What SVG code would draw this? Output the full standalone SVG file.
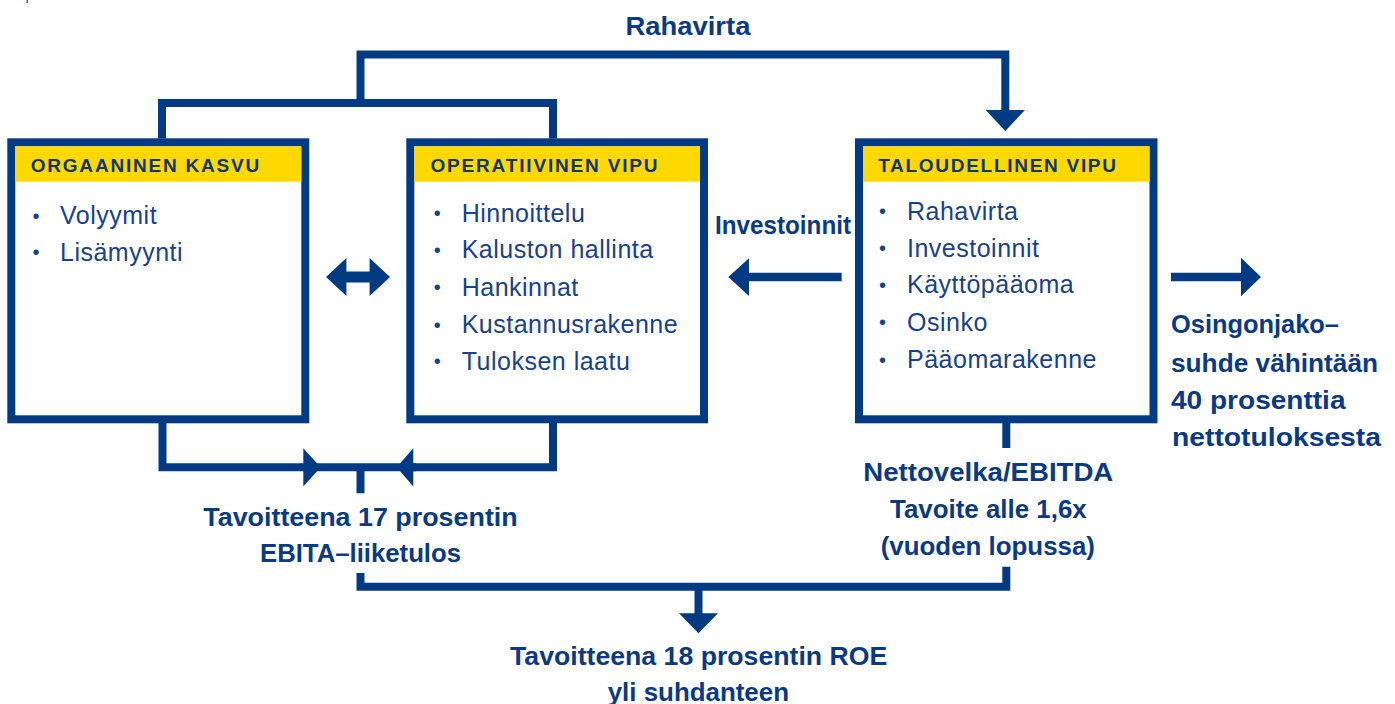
<svg xmlns="http://www.w3.org/2000/svg" width="1395" height="704" viewBox="0 0 1395 704">
<style>
.box{fill:#fff;stroke:#023b83;stroke-width:8}
.hdr{fill:#ffd800}
.ht{font-family:"Liberation Sans",Arial,sans-serif;font-weight:bold;font-size:19px;fill:#0f3577}
.it{font-family:"Liberation Sans",Arial,sans-serif;font-size:25px;letter-spacing:0.5px;fill:#17418b}
.bu{font-family:"Liberation Sans",Arial,sans-serif;font-size:20px;fill:#17418b}
.lb{font-family:"Liberation Sans",Arial,sans-serif;font-weight:bold;font-size:26.5px;fill:#0b3a82}
.ln{fill:none;stroke:#023b83;stroke-width:8;stroke-linejoin:miter;stroke-linecap:butt}
.ah{fill:#023b83}
</style>
<rect x="26.5" y="0" width="1.5" height="3" fill="#3d5f9e"/>
<g id="connectors">
  <path class="ln" d="M360.5,103 V54.5 H1005.3 V112"/>
  <polygon class="ah" points="985.7,110 1025,110 1005.3,131"/>
  <path class="ln" d="M162,138.5 V103 H553 V138.5"/>
  <path class="ln" d="M162.5,423 V467.2 H416"/>
  <path class="ln" d="M553,423 V467.2 H410"/>
  <polygon class="ah" points="303.3,448.3 320.7,467.2 303.3,486.5"/>
  <polygon class="ah" points="413.3,448.3 396.7,467.2 413.3,486.5"/>
  <path class="ln" d="M360.5,467 V493.3"/>
  <path class="ln" d="M1006.3,423 V448"/>
  <path class="ln" d="M360.5,573 V586.7 H1006.3 V566.7"/>
  <path class="ln" d="M698.5,586.7 V614"/>
  <polygon class="ah" points="679,613.3 718,613.3 698.5,633.3"/>
  <polygon class="ah" points="326,277 346.4,258 346.4,271.5 369.6,271.5 369.6,258 390,277 369.6,296 369.6,282.5 346.4,282.5 346.4,296"/>
  <polygon class="ah" points="728.3,277 749,258.3 749,272.7 841.7,272.7 841.7,281.3 749,281.3 749,296"/>
  <polygon class="ah" points="1171,272.7 1241,272.7 1241,257.7 1261,277 1241,296.3 1241,281.3 1171,281.3"/>
</g>
<g id="orgaaninen-kasvu">
  <rect class="box" x="11.3" y="142.3" width="294" height="277"/>
  <rect class="hdr" x="15.3" y="146.3" width="286" height="35.4"/>
  <text class="ht" x="30.7" y="171.5" textLength="228.6" lengthAdjust="spacing">ORGAANINEN KASVU</text>
  <text class="bu" x="32.5" y="222.5">•</text>
  <text class="it" x="60" y="224.3">Volyymit</text>
  <text class="bu" x="32.5" y="259.2">•</text>
  <text class="it" x="60" y="261">Lisämyynti</text>
</g>
<g id="operatiivinen-vipu">
  <rect class="box" x="410.3" y="142.3" width="293.7" height="277"/>
  <rect class="hdr" x="414.3" y="146.3" width="285.7" height="35.4"/>
  <text class="ht" x="430.4" y="171.5" textLength="227.2" lengthAdjust="spacing">OPERATIIVINEN VIPU</text>
  <text class="bu" x="433.8" y="220">•</text>
  <text class="it" x="461.7" y="221.7">Hinnoittelu</text>
  <text class="bu" x="433.8" y="256.6">•</text>
  <text class="it" x="461.7" y="258.3">Kaluston hallinta</text>
  <text class="bu" x="433.8" y="294.3">•</text>
  <text class="it" x="461.7" y="296">Hankinnat</text>
  <text class="bu" x="433.8" y="331.6">•</text>
  <text class="it" x="461.7" y="333.3">Kustannusrakenne</text>
  <text class="bu" x="433.8" y="368.3">•</text>
  <text class="it" x="461.7" y="370">Tuloksen laatu</text>
</g>
<g id="taloudellinen-vipu">
  <rect class="box" x="859" y="142.3" width="294.5" height="277"/>
  <rect class="hdr" x="863" y="146.3" width="286.5" height="35.4"/>
  <text class="ht" x="878.2" y="171.5" textLength="237.8" lengthAdjust="spacing">TALOUDELLINEN VIPU</text>
  <text class="bu" x="879" y="218.3">•</text>
  <text class="it" x="907" y="220">Rahavirta</text>
  <text class="bu" x="879" y="255">•</text>
  <text class="it" x="907" y="256.7">Investoinnit</text>
  <text class="bu" x="879" y="291.6">•</text>
  <text class="it" x="907" y="293.3">Käyttöpääoma</text>
  <text class="bu" x="879" y="329.3">•</text>
  <text class="it" x="907" y="331">Osinko</text>
  <text class="bu" x="879" y="366.6">•</text>
  <text class="it" x="907" y="368.3">Pääomarakenne</text>
</g>
<g id="labels">
  <text class="lb" x="625.4" y="35" textLength="125" lengthAdjust="spacingAndGlyphs">Rahavirta</text>
  <text class="lb" x="715" y="234" textLength="136" lengthAdjust="spacingAndGlyphs">Investoinnit</text>
  <text class="lb" x="1171" y="333" textLength="168" lengthAdjust="spacingAndGlyphs">Osingonjako–</text>
  <text class="lb" x="1171" y="371.5" textLength="207" lengthAdjust="spacingAndGlyphs">suhde vähintään</text>
  <text class="lb" x="1171" y="408.5" textLength="174.5" lengthAdjust="spacingAndGlyphs">40 prosenttia</text>
  <text class="lb" x="1172" y="446" textLength="209" lengthAdjust="spacingAndGlyphs">nettotuloksesta</text>
  <text class="lb" x="203.3" y="526" textLength="314.4" lengthAdjust="spacingAndGlyphs">Tavoitteena 17 prosentin</text>
  <text class="lb" x="260" y="562.3" textLength="201" lengthAdjust="spacingAndGlyphs">EBITA–liiketulos</text>
  <text class="lb" x="863.3" y="481" textLength="250" lengthAdjust="spacingAndGlyphs">Nettovelka/EBITDA</text>
  <text class="lb" x="890" y="518.3" textLength="196.7" lengthAdjust="spacingAndGlyphs">Tavoite alle 1,6x</text>
  <text class="lb" x="880.7" y="555" textLength="214.3" lengthAdjust="spacingAndGlyphs">(vuoden lopussa)</text>
  <text class="lb" x="510" y="665" textLength="377.3" lengthAdjust="spacingAndGlyphs">Tavoitteena 18 prosentin ROE</text>
  <text class="lb" x="607.7" y="700.5" textLength="181.3" lengthAdjust="spacingAndGlyphs">yli suhdanteen</text>
</g>
</svg>
